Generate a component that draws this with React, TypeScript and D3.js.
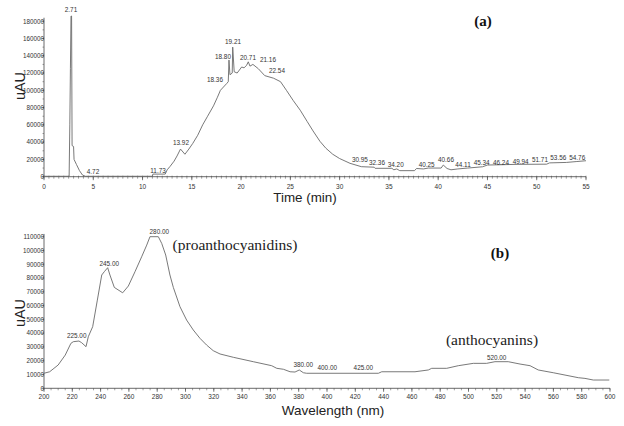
import React from "react";
import * as d3 from "d3";

// ---------- Panel (a): chromatogram ----------
const chromTime = [0, 2.55, 2.62, 2.68, 2.74, 2.8, 2.85, 3.0, 3.05, 3.3, 3.6, 3.9, 4.2, 11.0, 11.05, 12.3, 12.5, 12.8, 13.2, 13.5, 13.85, 14.3, 14.7, 15.1, 15.6, 16.1, 16.6, 17.2, 17.6, 17.9, 18.55, 18.7, 18.77, 18.87, 19.1, 19.15, 19.3, 19.6, 20.06, 20.3, 20.56, 20.73, 20.9, 21.2, 21.75, 22.4, 23.3, 24.0, 24.6, 25.3, 26.0, 26.7, 27.3, 28.0, 28.6, 29.3, 30.0, 31.05, 32.2, 33.5, 33.6, 35.3, 35.5, 35.8, 36.1, 37.6, 37.8, 38.5, 39.0, 40.3, 40.52, 40.9, 41.3, 42.0, 43.0, 44.5, 45.0, 48.0, 51.0, 51.3, 53.0, 54.0, 55.0];
const chromValue = [500, 500, 60000, 125000, 186000, 186000, 36000, 35000, 20000, 14000, 7000, 2000, 500, 500, 3000, 3000, 8000, 12000, 18000, 24000, 32000, 26000, 32000, 38600, 48000, 60000, 70000, 82000, 92000, 100000, 108000, 110000, 135000, 118000, 120000, 150000, 121500, 120000, 127000, 126000, 129000, 133000, 128000, 130000, 125000, 117000, 114000, 110000, 100000, 88000, 77000, 64000, 53000, 41000, 33000, 26000, 21000, 15500, 11600, 11000, 9700, 9700, 8000, 9000, 7000, 7000, 9500, 9000, 10000, 10000, 13500, 9500, 8000, 9000, 10000, 11500, 13500, 14300, 14500, 16000, 16500, 17500, 18500];
const peakLabels = ["2.71", "4.72", "11.73", "13.92", "18.36", "18.80", "19.21", "20.71", "21.16", "22.54", "30.95", "32.36", "34.20", "40.25", "40.66", "44.11", "45.34", "46.24", "49.94", "51.71", "53.56", "54.76"];
const peakLabelTime = [2.74, 4.97, 11.57, 13.9, 17.35, 18.16, 19.18, 20.7, 22.73, 23.64, 32.06, 33.79, 35.69, 38.83, 40.79, 42.52, 44.41, 46.37, 48.37, 50.33, 52.19, 54.11];
const peakLabelValue = [190600, 3100, 4300, 36700, 109600, 136200, 153600, 135000, 132800, 120000, 17000, 13500, 11200, 11200, 17000, 11200, 13500, 13500, 14700, 17000, 19300, 19300];
const timeTicks = [0, 5, 10, 15, 20, 25, 30, 35, 40, 45, 50, 55];
const uauTicksA = [0, 20000, 40000, 60000, 80000, 100000, 120000, 140000, 160000, 180000];

// ---------- Panel (b): UV-Vis spectrum ----------
const waveNm = [200, 204, 210, 215, 219, 220.7, 224.7, 226.6, 229.7, 231.3, 234.4, 237.7, 240.8, 242.6, 245, 246.6, 249.7, 255.6, 259.6, 264.3, 269, 272.6, 274.9, 280.8, 283.2, 286, 289, 291.4, 296.1, 300.8, 305.5, 310.2, 314.9, 319.6, 324.4, 333.8, 347.9, 360.9, 364.5, 369.2, 373.9, 377.4, 380.4, 383.3, 385.6, 436.3, 438.7, 462.2, 471.6, 474, 484.6, 492.8, 503.4, 512.8, 518.7, 528.1, 536.4, 543.5, 549.3, 559.9, 577.6, 582.3, 588.2, 599.5];
const absValue = [10900, 12000, 16900, 24100, 32600, 33800, 34300, 33100, 30200, 37400, 44700, 64000, 82200, 84600, 87500, 82200, 73200, 69300, 74200, 84600, 95400, 103900, 110000, 110000, 105100, 96700, 82200, 73200, 59200, 49500, 42300, 36300, 31400, 27300, 24900, 22500, 19300, 16400, 14500, 13800, 12000, 11800, 13300, 11300, 10900, 10900, 12000, 12000, 13300, 14500, 14500, 16400, 18100, 18100, 19300, 19300, 17600, 16400, 13300, 11300, 7700, 7200, 6000, 6000];
const waveLabels = ["225.00", "245.00", "280.00", "380.00", "400.00", "425.00", "520.00"];
const waveLabelNm = [223.1, 246.1, 281.5, 383.2, 400.2, 425.7, 519.9];
const waveLabelValue = [36800, 88700, 112300, 15800, 13300, 13300, 20200];
const waveTicks = [200, 220, 240, 260, 280, 300, 320, 340, 360, 380, 400, 420, 440, 460, 480, 500, 520, 540, 560, 580, 600];
const uauTicksB = [0, 10000, 20000, 30000, 40000, 50000, 60000, 70000, 80000, 90000, 100000, 110000];

const SANS = "'Liberation Sans', Arial, sans-serif";
const SERIF = "'Liberation Serif', 'Times New Roman', serif";
const AX = "#444";
const LINE = "#6a6a6a";
const TXT = "#333";

export default function App() {
  const xA = d3.scaleLinear().domain([0, 55]).range([44, 586]);
  const yA = d3.scaleLinear().domain([0, 185000]).range([176.7, 16.9]);
  const xB = d3.scaleLinear().domain([200, 600]).range([44, 610]);
  const yB = d3.scaleLinear().domain([0, 110000]).range([388.3, 236.7]);

  const lineA = d3
    .line<number>()
    .x((_, i) => xA(chromTime[i]))
    .y((v) => yA(v));
  const lineB = d3
    .line<number>()
    .x((_, i) => xB(waveNm[i]))
    .y((v) => yB(v));

  const minorA = d3.range(0, 55.001, 0.5);
  const minorAY = d3.range(0, 180001, 10000);
  const minorB = d3.range(200, 600.001, 5);

  return (
    <svg
      width={624}
      height={426}
      style={{ position: "absolute", left: 0, top: 0, background: "#fff" }}
    >
      {/* ===== Panel (a) ===== */}
      <g>
        {/* axes */}
        <line x1={xA(0)} x2={xA(55)} y1={yA(0)} y2={yA(0)} stroke={AX} strokeWidth={0.8} />
        <line x1={xA(0)} x2={xA(0)} y1={yA(0)} y2={yA(184000)} stroke={AX} strokeWidth={0.8} />
        {minorA.map((t) => (
          <line key={"ma" + t} x1={xA(t)} x2={xA(t)} y1={yA(0) - 1} y2={yA(0) + 2} stroke={AX} strokeWidth={0.5} />
        ))}
        {timeTicks.map((t) => (
          <g key={"ta" + t}>
            <line x1={xA(t)} x2={xA(t)} y1={yA(0)} y2={yA(0) + 3.5} stroke={AX} strokeWidth={0.7} />
            <text x={xA(t)} y={189} fontSize={6.5} fontFamily={SANS} fill={TXT} textAnchor="middle">
              {t}
            </text>
          </g>
        ))}
        {minorAY.map((v) => (
          <line key={"may" + v} x1={xA(0) - 1.5} x2={xA(0)} y1={yA(v)} y2={yA(v)} stroke={AX} strokeWidth={0.5} />
        ))}
        {uauTicksA.map((v) => (
          <g key={"ya" + v}>
            <line x1={xA(0) - 2.5} x2={xA(0)} y1={yA(v)} y2={yA(v)} stroke={AX} strokeWidth={0.7} />
            <text x={44} y={yA(v) + 2.3} fontSize={6.3} fontFamily={SANS} fill={TXT} textAnchor="end">
              {v}
            </text>
          </g>
        ))}
        <path d={lineA(chromValue) || ""} fill="none" stroke={LINE} strokeWidth={0.9} />
        {peakLabels.map((s, i) => (
          <text
            key={"pl" + i}
            x={xA(peakLabelTime[i])}
            y={yA(peakLabelValue[i])}
            fontSize={6.4}
            fontFamily={SANS}
            fill={TXT}
            textAnchor="middle"
          >
            {s}
          </text>
        ))}
        <text x={305} y={201.5} fontSize={13.4} fontFamily={SANS} fill="#222" textAnchor="middle">
          Time (min)
        </text>
        <text
          transform="translate(25,86) rotate(-90)"
          fontSize={14.4}
          fontFamily={SANS}
          fill="#222"
          textAnchor="middle"
        >
          uAU
        </text>
        <text x={483} y={26} fontSize={15} fontWeight="bold" fontFamily={SERIF} fill="#111" textAnchor="middle">
          (a)
        </text>
      </g>

      {/* ===== Panel (b) ===== */}
      <g>
        <line x1={xB(200)} x2={xB(600)} y1={yB(0)} y2={yB(0)} stroke={AX} strokeWidth={0.8} />
        <line x1={xB(200)} x2={xB(200)} y1={yB(0)} y2={yB(112000)} stroke={AX} strokeWidth={0.8} />
        {minorB.map((t) => (
          <line key={"mb" + t} x1={xB(t)} x2={xB(t)} y1={yB(0)} y2={yB(0) + 2} stroke={AX} strokeWidth={0.5} />
        ))}
        {waveTicks.map((t) => (
          <g key={"tb" + t}>
            <line x1={xB(t)} x2={xB(t)} y1={yB(0)} y2={yB(0) + 3.5} stroke={AX} strokeWidth={0.7} />
            <text x={xB(t)} y={399} fontSize={6.5} fontFamily={SANS} fill={TXT} textAnchor="middle">
              {t}
            </text>
          </g>
        ))}
        {uauTicksB.map((v) => (
          <g key={"yb" + v}>
            <line x1={xB(200) - 2.5} x2={xB(200)} y1={yB(v)} y2={yB(v)} stroke={AX} strokeWidth={0.7} />
            <text x={44} y={yB(v) + 2.3} fontSize={6.3} fontFamily={SANS} fill={TXT} textAnchor="end">
              {v}
            </text>
          </g>
        ))}
        <path d={lineB(absValue) || ""} fill="none" stroke={LINE} strokeWidth={0.9} />
        {waveLabels.map((s, i) => (
          <text
            key={"wl" + i}
            x={xB(waveLabelNm[i])}
            y={yB(waveLabelValue[i])}
            fontSize={6.4}
            fontFamily={SANS}
            fill={TXT}
            textAnchor="middle"
          >
            {s}
          </text>
        ))}
        <text x={333} y={415} fontSize={13.5} fontFamily={SANS} fill="#222" textAnchor="middle">
          Wavelength (nm)
        </text>
        <text
          transform="translate(25,313) rotate(-90)"
          fontSize={14.4}
          fontFamily={SANS}
          fill="#222"
          textAnchor="middle"
        >
          uAU
        </text>
        <text x={235} y={250} fontSize={15.5} fontFamily={SERIF} fill="#222" textAnchor="middle">
          (proanthocyanidins)
        </text>
        <text x={492} y={345} fontSize={15.5} fontFamily={SERIF} fill="#222" textAnchor="middle">
          (anthocyanins)
        </text>
        <text x={500} y={258} fontSize={15} fontWeight="bold" fontFamily={SERIF} fill="#111" textAnchor="middle">
          (b)
        </text>
      </g>
    </svg>
  );
}
